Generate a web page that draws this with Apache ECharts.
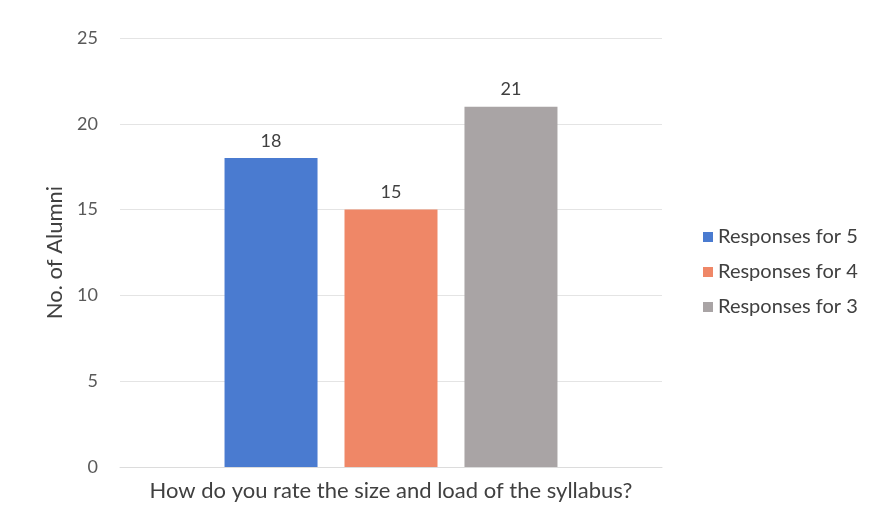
<!DOCTYPE html>
<html>
<head>
<meta charset="utf-8">
<script src="https://cdn.jsdelivr.net/npm/echarts@6/dist/echarts.min.js"></script>
<style>
  html, body { margin: 0; padding: 0; background: #fff; }
  #chart { width: 875px; height: 520px; }
</style>
</head>
<body>
<div id="chart"></div>
<script>
// data
const categories = ['How do you rate the size and load of the syllabus?'];
const seriesNames = ['Responses for 5', 'Responses for 4', 'Responses for 3'];
const responses5 = [18];
const responses4 = [15];
const responses3 = [21];
const colors = ['#4a7bd0', '#ef8767', '#a9a4a5'];

const chart = echarts.init(document.getElementById('chart'));
const font = 'Lato, "Open Sans", sans-serif';

function barSeries(name, data, color) {
  return {
    name: name,
    type: 'bar',
    data: data,
    barWidth: 93,
    barGap: '29%',
    itemStyle: { color: color },
    label: {
      show: true,
      position: 'top',
      distance: 8,
      color: '#404040',
      fontSize: 18,
      fontFamily: font
    }
  };
}

chart.setOption({
  animation: false,
  textStyle: { fontFamily: font },
  grid: { left: 120, right: 213, top: 38, bottom: 53 },
  legend: {
    orient: 'vertical',
    left: 698,
    top: 222,
    itemWidth: 10,
    itemHeight: 10,
    itemGap: 15,
    icon: 'rect',
    textStyle: { color: '#404040', fontSize: 20, fontFamily: font },
    data: seriesNames
  },
  xAxis: {
    type: 'category',
    data: categories,
    axisTick: { show: false },
    axisLine: { lineStyle: { color: '#dcdcdc' } },
    axisLabel: { color: '#404040', fontSize: 22, margin: 13, fontFamily: font }
  },
  yAxis: {
    type: 'value',
    min: 0,
    max: 25,
    interval: 5,
    name: 'No. of Alumni',
    nameLocation: 'middle',
    nameGap: 53,
    nameTextStyle: { color: '#404040', fontSize: 22, fontFamily: font },
    axisLabel: { color: '#595959', fontSize: 18, margin: 22, fontFamily: font },
    splitLine: { lineStyle: { color: '#e4e4e4' } }
  },
  series: [
    barSeries(seriesNames[0], responses5, colors[0]),
    barSeries(seriesNames[1], responses4, colors[1]),
    barSeries(seriesNames[2], responses3, colors[2])
  ]
});
</script>
</body>
</html>
